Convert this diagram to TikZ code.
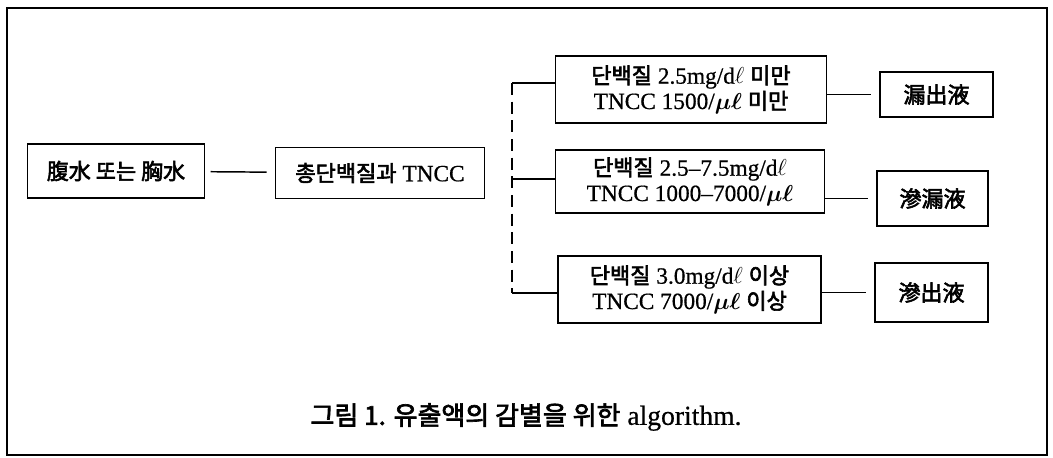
\documentclass[tikz,border=0pt]{standalone}
\usepackage{bm}
\usepackage{fontspec}
\setmainfont{Liberation Serif}[Scale=1.06, FakeBold=0.6]
\newfontfamily\kr{Noto Sans CJK KR}[FakeBold=2.6]
\newcommand{\ko}[1]{{\kr #1}}
\usetikzlibrary{calc}

\tikzset{
  box/.style={draw, line width=1.2pt, align=center, inner sep=0pt,
    font=\fontsize{16.5}{19}\selectfont},
  sz/.style 2 args={minimum width=#1*0.75pt, minimum height=#2*0.75pt},
  link/.style={line width=1.1pt, shorten <=4, shorten >=6},
}

\begin{document}
\begin{tikzpicture}[x=0.75pt,y=-0.75pt]
  \useasboundingbox (0,0) rectangle (1053,457);
  \draw[line width=1.1pt] (7,8) rectangle (1047,455);

  % left part
  \node[box, sz={177}{54}] (fluid) at (116,171) {\ko{腹水 또는 胸水}};
  \node[box, sz={209}{51}] (total) at (380,173) {\ko{총단백질과} TNCC};
  \draw[link] (fluid) -- (total);

  % criteria
  \node[box, sz={271}{67}] (low) at (691,89.5)
    {\ko{단백질} 2.5mg/d$\ell$ \ko{미만}\\TNCC 1500/$\bm{\mu\ell}$ \ko{미만}};
  \node[box, sz={269}{63}] (mid) at (690,181.5)
    {\ko{단백질} 2.5--7.5mg/d$\ell$\\TNCC 1000--7000/$\bm{\mu\ell}$};
  \node[box, sz={263}{67}] (high) at (689.5,289.5)
    {\ko{단백질} 3.0mg/d$\ell$ \ko{이상}\\TNCC 7000/$\bm{\mu\ell}$ \ko{이상}};

  \coordinate (t1) at (512,83);
  \coordinate (t2) at (512,179);
  \coordinate (t3) at (512,293);
  \draw[line width=1.1pt, dashed, dash pattern=on 9pt off 5pt] (t1) -- (t3);
  \draw[line width=1.1pt] (t1) -- (t1 -| low.west);
  \draw[line width=1.1pt] (t2) -- (t2 -| mid.west);
  \draw[line width=1.1pt] (t3) -- (t3 -| high.west);

  % results
  \node[box, sz={113}{45}] (trans) at (936.5,94.5) {\ko{漏出液}};
  \node[box, sz={111}{55}] (inter) at (932.5,198.5) {\ko{滲漏液}};
  \node[box, sz={113}{59}] (exud) at (931.5,292.5) {\ko{滲出液}};
  \draw[link, shorten <=0] (trans.west -| low.east) -- (trans.west);
  \draw[link, shorten <=0] (inter.west -| mid.east) -- (inter.west);
  \draw[link, shorten <=0] (exud.west -| high.east) -- (exud.west);

  \node[font=\fontsize{19.5}{22}\selectfont] (caption) at (526,417)
    {\ko{그림 1. 유출액의 감별을 위한} algorithm.};
\end{tikzpicture}
\end{document}
